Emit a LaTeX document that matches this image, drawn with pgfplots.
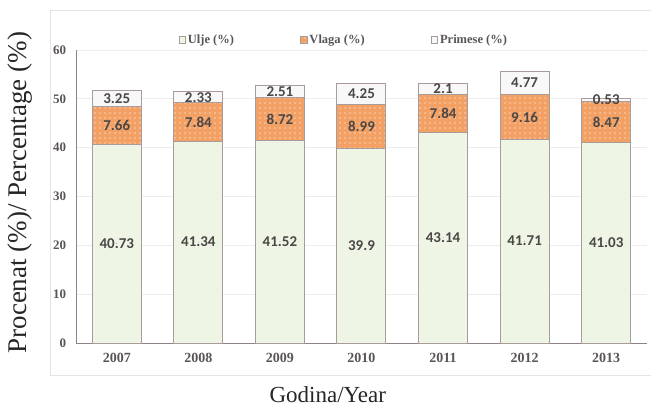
\documentclass[border=0pt]{standalone}
\usepackage{fontspec}
\setmainfont{Liberation Serif}
\newfontfamily\lblfont{Carlito}
\usepackage{pgfplots}
\pgfplotsset{compat=1.18}
\usepackage{pgfplotstable}
\usetikzlibrary{patterns.meta}

\definecolor{ulje}{HTML}{EEF5E5}
\definecolor{vlaga}{HTML}{F2A064}
\definecolor{vlagadot}{HTML}{F8C29A}
\definecolor{prim}{HTML}{F8F8F8}
\definecolor{edge}{HTML}{A89B9B}
\definecolor{axisc}{HTML}{8E8484}
\definecolor{tickc}{HTML}{5A5555}
\definecolor{lblc}{HTML}{4A4747}
\definecolor{gridc}{HTML}{EDEDED}
\definecolor{framec}{HTML}{E4E4E4}

\pgfplotstableread{
x year ulje vlaga prim
0 2007 40.73 7.66 3.25
1 2008 41.34 7.84 2.33
2 2009 41.52 8.72 2.51
3 2010 39.9 8.99 4.25
4 2011 43.14 7.84 2.1
5 2012 41.71 9.16 4.77
6 2013 41.03 8.47 0.53
}\data

\pgfplotsset{
  base/.style={
    at={(76pt,65pt)}, anchor=south west,
    scale only axis, width=571pt, height=293pt,
    xmin=-0.5, xmax=6.5, ymin=0, ymax=60,
  },
}

\begin{document}
\begin{tikzpicture}
\path[use as bounding box] (0pt,0pt) rectangle (651pt,408pt);
\draw[framec, line width=0.8pt] (50pt,33pt) rectangle (652pt,398pt);
\begin{axis}[base,
  ybar stacked, bar width=49pt,
  axis x line=bottom, axis y line=left,
  axis line style={axisc, line width=0.9pt, -},
  xtick={0,...,6},
  xticklabels={2007,2008,2009,2010,2011,2012,2013},
  xtick style={draw=none},
  minor xtick={-0.5,0.5,...,6.5},
  minor x tick style={axisc, line width=0.9pt},
  minor tick length=5pt,
  tick align=outside,
  ytick={0,10,...,60},
  ytick style={draw=none},
  ymajorgrids, grid style={gridc, line width=0.7pt},
  /pgf/number format/assume math mode=true,
  xticklabel style={font=\fontsize{14}{16}\selectfont\bfseries, text=tickc, yshift=-2pt},
  yticklabel style={font=\fontsize{13}{15}\selectfont\bfseries, text=tickc, xshift=-2pt},
  xlabel={Godina/Year},
  xlabel style={at={(axis description cs:0.441,-0.177)}, anchor=center, font=\fontsize{23}{26}\selectfont, text=black!85},
  ylabel={Procenat (\%)/ Percentage (\%)},
  ylabel style={at={(axis description cs:-0.098,0.513)}, anchor=center, font=\fontsize{27}{30}\selectfont, text=black!85},
  legend columns=3,
  legend style={at={(0.469,1.034)}, anchor=center, draw=none, fill=none,
    font=\fontsize{12.5}{14}\selectfont\bfseries, text=tickc,
    /tikz/every even column/.append style={column sep=64pt},
    inner sep=0pt},
  legend image code/.code={\draw[#1, line width=0.6pt] (0pt,-3.4pt) rectangle (6.8pt,3.4pt);},
]
\addplot[fill=ulje, draw=edge, line width=1pt] table[x=x, y=ulje]{\data};
\addplot[fill=vlaga, draw=edge, line width=1pt, postaction={pattern={Dots[distance=5pt, radius=1.1pt]}, pattern color=vlagadot}] table[x=x, y=vlaga]{\data};
\addplot[fill=prim, draw=edge, line width=1pt] table[x=x, y=prim]{\data};
\legend{Ulje (\%), Vlaga (\%), Primese (\%)}
\end{axis}
\begin{axis}[base, axis lines=none, ticks=none,
  every node near coord/.append style={anchor=center, font=\lblfont\fontsize{15}{17}\selectfont\bfseries, text=lblc},
  nodes near coords, point meta=explicit symbolic]
\addplot[only marks, mark=*, mark size=0.01pt, mark options={draw=none, fill=none}] table[x=x, y expr=\thisrow{ulje}/2, meta=ulje]{\data};
\addplot[only marks, mark=*, mark size=0.01pt, mark options={draw=none, fill=none}] table[x=x, y expr=\thisrow{ulje}+\thisrow{vlaga}/2, meta=vlaga]{\data};
\addplot[only marks, mark=*, mark size=0.01pt, mark options={draw=none, fill=none}] table[x=x, y expr=\thisrow{ulje}+\thisrow{vlaga}+\thisrow{prim}/2, meta=prim]{\data};
\end{axis}
\end{tikzpicture}
\end{document}
